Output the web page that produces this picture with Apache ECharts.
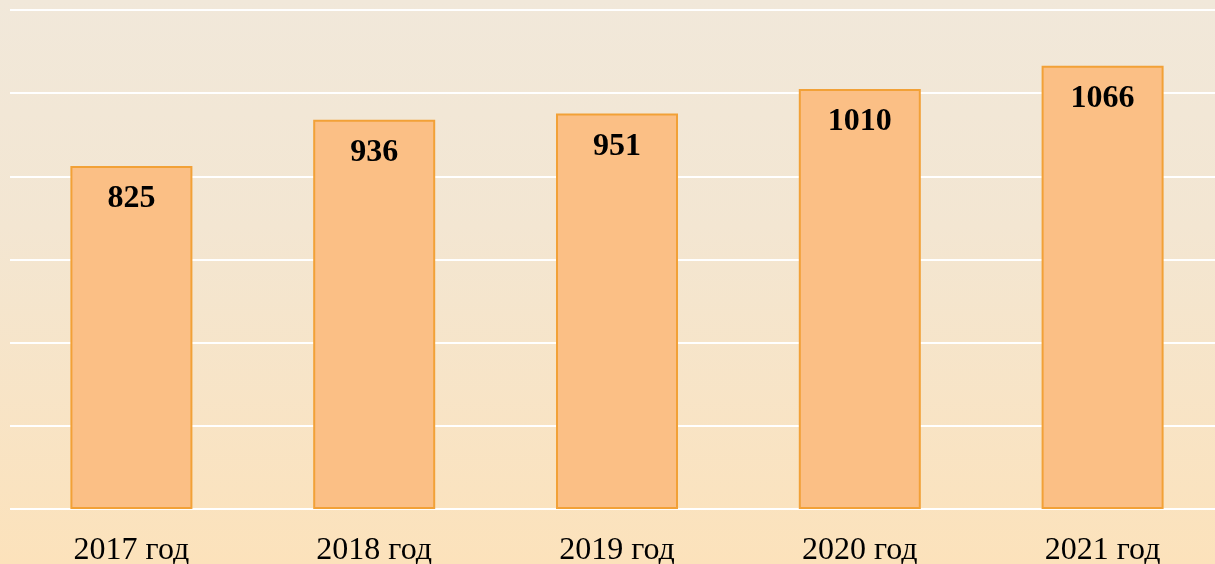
<!DOCTYPE html>
<html>
<head>
<meta charset="utf-8">
<script src="https://cdn.jsdelivr.net/npm/echarts@6/dist/echarts.min.js"></script>
<style>
html,body{margin:0;padding:0;}
#c{width:1215px;height:564px;background:linear-gradient(to bottom,#f1e8da 0%,#f3e6d2 40%,#fce2bb 100%);}
</style>
</head>
<body>
<div id="c"></div>
<script>
const categories = ['2017 год', '2018 год', '2019 год', '2020 год', '2021 год'];
const values = [825, 936, 951, 1010, 1066];

const chart = echarts.init(document.getElementById('c'), null, {renderer: 'canvas'});
chart.setOption({
  backgroundColor: 'transparent',
  animation: false,
  grid: {left: 10, top: 10, width: 1214, bottom: 55, containLabel: false, outerBoundsMode: 'none'},
  xAxis: {
    type: 'category',
    data: categories,
    axisLine: {show: false},
    axisTick: {show: false},
    axisLabel: {fontFamily: 'Liberation Serif', fontSize: 32, color: '#000', margin: 26}
  },
  yAxis: {
    type: 'value',
    min: 0, max: 1200, interval: 200,
    axisLabel: {show: false},
    axisLine: {show: false},
    axisTick: {show: false},
    splitLine: {lineStyle: {color: '#ffffff', width: 2}}
  },
  series: [{
    type: 'bar',
    data: values,
    barWidth: 122,
    itemStyle: {color: '#fbbf85', borderColor: '#f2a137', borderWidth: 2},
    label: {
      show: true, position: 'insideTop', distance: 17,
      fontFamily: 'Liberation Serif', fontWeight: 'bold', fontSize: 32, color: '#000'
    }
  }]
});
</script>
</body>
</html>
